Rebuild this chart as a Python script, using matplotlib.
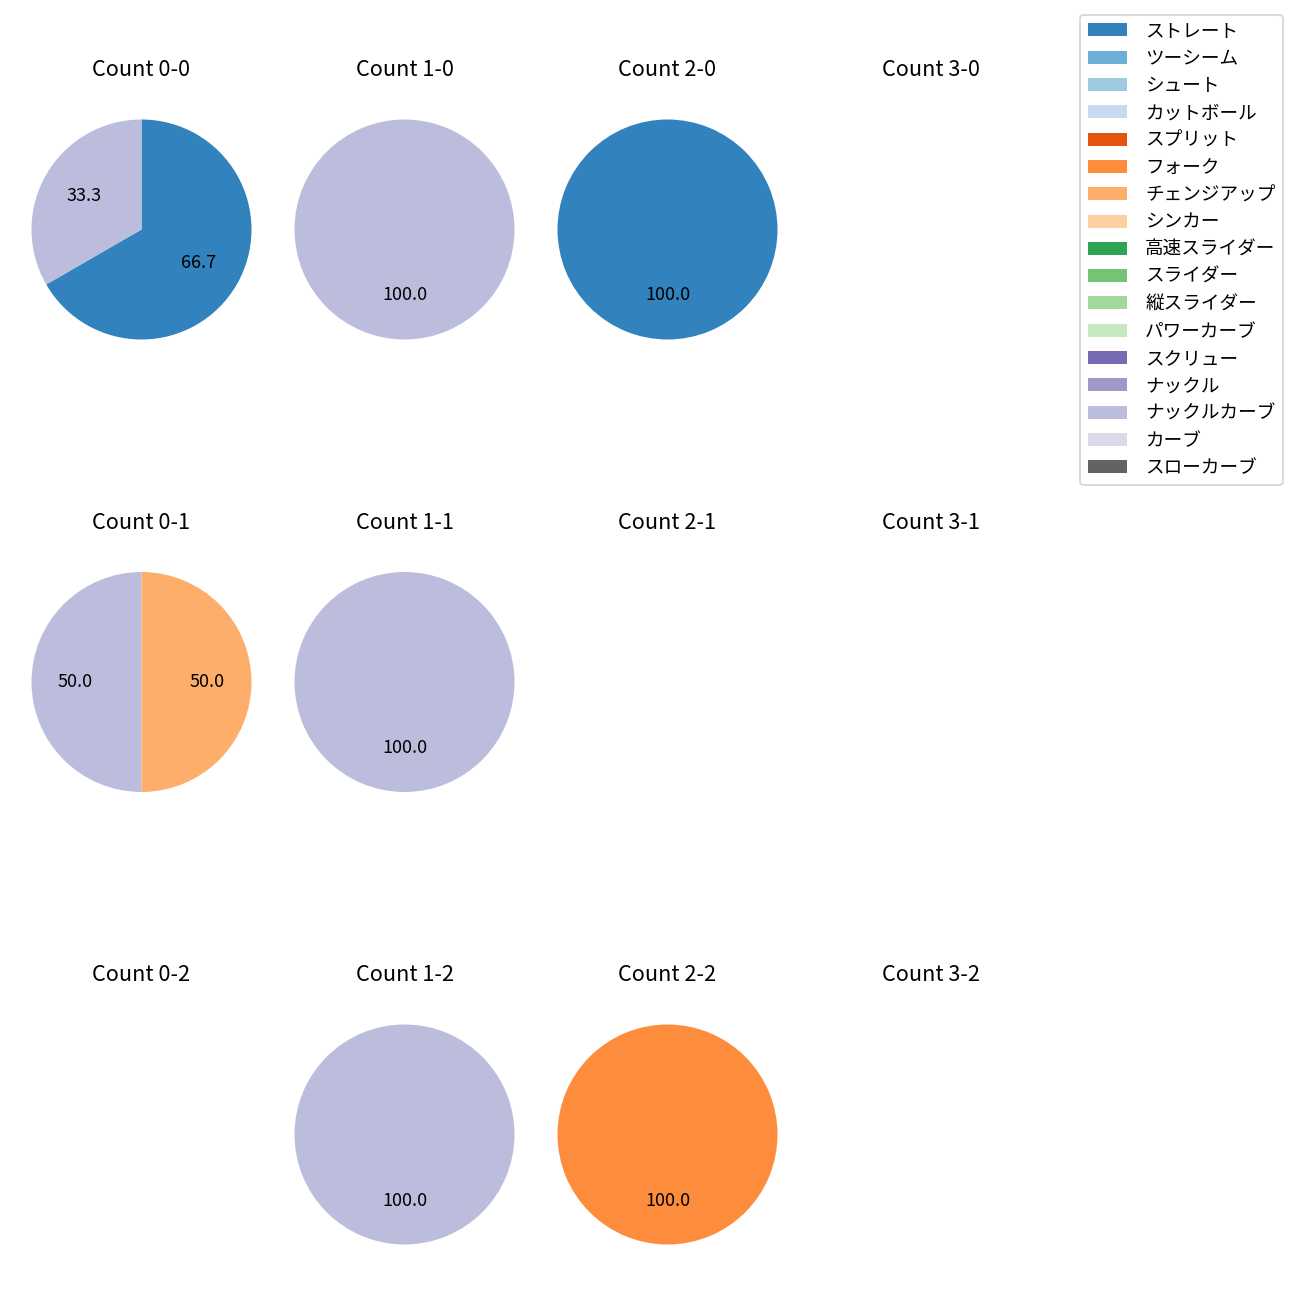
import matplotlib.pyplot as plt
from matplotlib.patches import Patch

plt.rcParams['font.family'] = ['Noto Sans CJK JP', 'DejaVu Sans']

pitch_types = ['ストレート', 'ツーシーム', 'シュート', 'カットボール', 'スプリット',
               'フォーク', 'チェンジアップ', 'シンカー', '高速スライダー', 'スライダー',
               '縦スライダー', 'パワーカーブ', 'スクリュー', 'ナックル', 'ナックルカーブ',
               'カーブ', 'スローカーブ']

balls = [0, 1, 2, 3]
strikes = [0, 1, 2]

# pitch counts per ball-strike count (only non-zero entries)
counts = {
    '0-0': {'ストレート': 2, 'ナックルカーブ': 1},
    '1-0': {'ナックルカーブ': 1},
    '2-0': {'ストレート': 1},
    '3-0': {},
    '0-1': {'チェンジアップ': 1, 'ナックルカーブ': 1},
    '1-1': {'ナックルカーブ': 1},
    '2-1': {},
    '3-1': {},
    '0-2': {},
    '1-2': {'ナックルカーブ': 1},
    '2-2': {'フォーク': 1},
    '3-2': {},
}

cmap = plt.get_cmap('tab20c')
colors = {p: cmap(i) for i, p in enumerate(pitch_types)}

fig = plt.figure(figsize=(10, 10), dpi=130)
W = H = 1300.0
side = 275.0

for s in strikes:
    for b in balls:
        key = f'{b}-{s}'
        cx = 141.5 + 263 * b
        cy = 229.5 + 452.5 * s
        ax = fig.add_axes([(cx - side / 2) / W, 1 - (cy + side / 2) / H, side / W, side / H])
        data = counts[key]
        if data:
            names = [p for p in pitch_types if p in data]
            vals = [data[p] for p in names]
            ax.pie(vals, colors=[colors[p] for p in names], autopct='%.1f',
                   startangle=90, counterclock=False, textprops={'fontsize': 10})
        else:
            ax.axis('off')
        ax.set_title(f'Count {key}', fontsize=12, pad=8.7)

handles = [Patch(facecolor=colors[p], label=p) for p in pitch_types]
fig.legend(handles=handles, loc='upper right', bbox_to_anchor=(1283 / W, 1 - 15 / H),
           borderaxespad=0, fontsize=10.3, handlelength=2.1, handletextpad=1.0)

plt.savefig('out.png')
